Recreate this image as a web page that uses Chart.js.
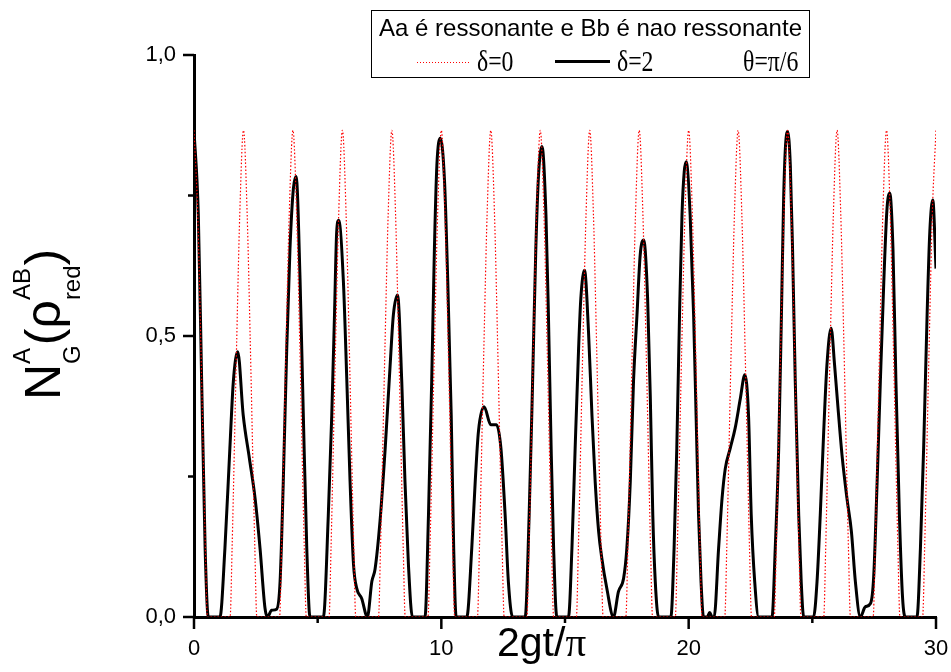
<!DOCTYPE html>
<html>
<head>
<meta charset="utf-8">
<script src="https://cdn.jsdelivr.net/npm/chart.js@4.4.0/dist/chart.umd.min.js"></script>
<style>
  body { margin: 0; background: #fff; }
  #wrap { position: relative; width: 951px; height: 672px; font-family: Arial, "Liberation Sans", sans-serif; }
  canvas { position: absolute; left: 0; top: 0; }
  .abs { position: absolute; white-space: nowrap; color: #000; }
  #legendBox { left: 371px; top: 10px; width: 437px; height: 66px; border: 1px solid #000; }
  #legTitle { left: 371px; width: 439px; top: 16px; font-size: 24px; line-height: 24px; text-align: center; }
  .greek { font-family: "Liberation Serif", "Times New Roman", serif; font-size: 29px; line-height: 29px; transform: scaleX(0.82); transform-origin: 0 0; }
  #redLine { left: 417px; top: 62px; width: 53px; height: 1px;
    background: repeating-linear-gradient(to right, #ff0000 0 1px, transparent 1px 3px); }
  #blackLine { left: 555px; top: 60px; width: 55px; height: 3px; background: #000; }
  #xTitle { left: 497px; top: 622px; font-size: 41px; line-height: 41px; }
  #xTitle .pi { font-family: "Liberation Serif", "Times New Roman", serif; }
  #yTitle { left: 18px; top: 400px; font-size: 50px; line-height: 50px; transform: rotate(-90deg); transform-origin: 0 0; }
  .st { display: inline-flex; flex-direction: column; position: relative; top: -30px; font-size: 24px; line-height: 24px; vertical-align: baseline; }
  .st .d { margin-top: 26px; }
</style>
</head>
<body>
<div id="wrap">
  <canvas id="myChart" width="951" height="672"></canvas>
  <div class="abs" id="legendBox"></div>
  <div class="abs" id="legTitle">Aa é ressonante e Bb é nao ressonante</div>
  <div class="abs" id="redLine"></div>
  <div class="abs greek" style="left:477px;top:47px">δ=0</div>
  <div class="abs" id="blackLine"></div>
  <div class="abs greek" style="left:617px;top:47px">δ=2</div>
  <div class="abs greek" style="left:743px;top:47px">θ=π/6</div>
  <div class="abs" id="xTitle">2gt/<span class="pi">π</span></div>
  <div class="abs" id="yTitle">N<span class="st"><span class="u">A</span><span class="d">G</span></span>(ρ<span class="st"><span class="u">AB</span><span class="d">red</span></span>)</div>
</div>
<script>
// delta = 0 (red dotted)
const redT = [
  0, 0.15, 0.28, 0.46, 0.54,
  1.46, 1.54, 1.72, 1.85, 2, 2.15, 2.28, 2.46, 2.54,
  3.46, 3.54, 3.72, 3.85, 4, 4.15, 4.28, 4.46, 4.54,
  5.46, 5.54, 5.72, 5.85, 6, 6.15, 6.28, 6.46, 6.54,
  7.46, 7.54, 7.72, 7.85, 8, 8.15, 8.28, 8.46, 8.54,
  9.46, 9.54, 9.72, 9.85, 10, 10.15, 10.28, 10.46, 10.54,
  11.46, 11.54, 11.72, 11.85, 12, 12.15, 12.28, 12.46, 12.54,
  13.46, 13.54, 13.72, 13.85, 14, 14.15, 14.28, 14.46, 14.54,
  15.46, 15.54, 15.72, 15.85, 16, 16.15, 16.28, 16.46, 16.54,
  17.46, 17.54, 17.72, 17.85, 18, 18.15, 18.28, 18.46, 18.54,
  19.46, 19.54, 19.72, 19.85, 20, 20.15, 20.28, 20.46, 20.54,
  21.46, 21.54, 21.72, 21.85, 22, 22.15, 22.28, 22.46, 22.54,
  23.46, 23.54, 23.72, 23.85, 24, 24.15, 24.28, 24.46, 24.54,
  25.46, 25.54, 25.72, 25.85, 26, 26.15, 26.28, 26.46, 26.54,
  27.46, 27.54, 27.72, 27.85, 28, 28.15, 28.28, 28.46, 28.54,
  29.46, 29.54, 29.72, 29.85, 30
];
const redY = [
  0.866, 0.716, 0.479, 0.122, 0,
  0, 0.122, 0.479, 0.716, 0.866, 0.716, 0.479, 0.122, 0,
  0, 0.122, 0.479, 0.716, 0.866, 0.716, 0.479, 0.122, 0,
  0, 0.122, 0.479, 0.716, 0.866, 0.716, 0.479, 0.122, 0,
  0, 0.122, 0.479, 0.716, 0.866, 0.716, 0.479, 0.122, 0,
  0, 0.122, 0.479, 0.716, 0.866, 0.716, 0.479, 0.122, 0,
  0, 0.122, 0.479, 0.716, 0.866, 0.716, 0.479, 0.122, 0,
  0, 0.122, 0.479, 0.716, 0.866, 0.716, 0.479, 0.122, 0,
  0, 0.122, 0.479, 0.716, 0.866, 0.716, 0.479, 0.122, 0,
  0, 0.122, 0.479, 0.716, 0.866, 0.716, 0.479, 0.122, 0,
  0, 0.122, 0.479, 0.716, 0.866, 0.716, 0.479, 0.122, 0,
  0, 0.122, 0.479, 0.716, 0.866, 0.716, 0.479, 0.122, 0,
  0, 0.122, 0.479, 0.716, 0.866, 0.716, 0.479, 0.122, 0,
  0, 0.122, 0.479, 0.716, 0.866, 0.716, 0.479, 0.122, 0,
  0, 0.122, 0.479, 0.716, 0.866, 0.716, 0.479, 0.122, 0,
  0, 0.122, 0.479, 0.716, 0.866
];

// delta = 2 (black solid)
const blackT = [
  0, 0.175, 0.31, 0.45, 0.58, 1.05, 1.25, 1.45, 1.59, 1.77,
  1.99, 2.24, 2.47, 2.67, 2.87, 2.97, 3.14, 3.34, 3.48, 3.61,
  3.75, 3.88, 4.02, 4.13, 4.29, 4.42, 4.56, 4.69, 5.23, 5.43,
  5.57, 5.68, 5.77, 5.85, 6.04, 6.18, 6.31, 6.45, 6.58, 6.78,
  7.01, 7.19, 7.32, 7.52, 7.73, 7.93, 8.06, 8.23, 8.4, 8.53,
  8.67, 8.83, 9.34, 9.48, 9.61, 9.72, 9.82, 9.96, 10.13, 10.26,
  10.4, 10.5, 10.6, 11.03, 11.23, 11.37, 11.5, 11.73, 12.0, 12.23,
  12.41, 12.58, 12.71, 12.88, 13.39, 13.55, 13.69, 13.82, 13.93, 14.07,
  14.23, 14.33, 14.44, 14.54, 14.67, 15.14, 15.28, 15.41, 15.55, 15.64,
  15.79, 15.95, 16.09, 16.22, 16.36, 16.49, 16.69, 16.96, 17.16, 17.37,
  17.5, 17.64, 17.77, 17.91, 18.04, 18.18, 18.34, 18.45, 18.55, 18.65,
  18.78, 19.28, 19.41, 19.52, 19.63, 19.73, 19.82, 19.9, 20.06, 20.2,
  20.3, 20.4, 20.5, 20.6, 20.75, 20.85, 20.95, 21.03, 21.21, 21.35,
  21.48, 21.68, 21.88, 22.09, 22.27, 22.42, 22.53, 22.67, 22.83, 23.37,
  23.5, 23.64, 23.75, 23.84, 23.91, 24.0, 24.11, 24.2, 24.31, 24.45,
  24.55, 24.65, 25.05, 25.19, 25.32, 25.46, 25.59, 25.76, 25.9, 26.04,
  26.2, 26.4, 26.58, 26.74, 26.94, 27.14, 27.35, 27.48, 27.62, 27.75,
  27.89, 28.02, 28.13, 28.26, 28.38, 28.52, 28.65, 28.76, 29.23, 29.37,
  29.5, 29.64, 29.75, 29.87, 30.0
];
const blackY = [
  0.866, 0.715, 0.419, 0.122, 0, 0, 0.122, 0.30, 0.419, 0.472,
  0.359, 0.282, 0.211, 0.122, 0.016, 0, 0.012, 0.014, 0.063, 0.241,
  0.478, 0.655, 0.763, 0.784, 0.597, 0.359, 0.122, 0, 0, 0.181,
  0.359, 0.537, 0.686, 0.706, 0.597, 0.419, 0.241, 0.093, 0.051, 0.033,
  0, 0.063, 0.085, 0.17, 0.30, 0.448, 0.537, 0.573, 0.419, 0.241,
  0.093, 0, 0, 0.181, 0.419, 0.655, 0.804, 0.852, 0.775, 0.597,
  0.359, 0.122, 0, 0, 0.122, 0.241, 0.33, 0.374, 0.342, 0.342,
  0.30, 0.181, 0.063, 0, 0, 0.181, 0.419, 0.655, 0.786, 0.837,
  0.715, 0.537, 0.30, 0.122, 0, 0, 0.122, 0.30, 0.478, 0.567,
  0.617, 0.508, 0.359, 0.241, 0.152, 0.104, 0.051, 0, 0.045, 0.069,
  0.122, 0.241, 0.419, 0.537, 0.644, 0.671, 0.567, 0.389, 0.181, 0.063,
  0, 0, 0.122, 0.30, 0.537, 0.715, 0.792, 0.81, 0.715, 0.537,
  0.359, 0.181, 0.063, 0, 0, 0.008, 0, 0, 0.122, 0.211,
  0.264, 0.30, 0.336, 0.389, 0.431, 0.359, 0.181, 0.063, 0, 0,
  0.122, 0.30, 0.537, 0.745, 0.834, 0.864, 0.804, 0.655, 0.419, 0.181,
  0.063, 0, 0, 0.063, 0.181, 0.33, 0.448, 0.514, 0.448, 0.371,
  0.288, 0.211, 0.152, 0.063, 0, 0.018, 0.024, 0.071, 0.241, 0.419,
  0.597, 0.727, 0.754, 0.655, 0.419, 0.181, 0.033, 0, 0, 0.122,
  0.30, 0.537, 0.686, 0.742, 0.62
];

const xTicks = [0, 5, 10, 15, 20, 25, 30];
const yTicks = [0, 0.25, 0.5, 0.75, 1.0];

const axisFont = { family: 'Arial, "Liberation Sans", sans-serif', size: 22 };

/* tick marks: long for labelled, short for minor */
const tickMarks = {
  id: "tickMarks",
  afterDraw(c) {
    const ctx = c.ctx;
    const xs = c.scales.x, ys = c.scales.y;
    const a = c.chartArea;
    ctx.save();
    ctx.strokeStyle = "#000";
    ctx.lineWidth = 2.5;
    xTicks.forEach(v => {
      const px = xs.getPixelForValue(v);
      const len = v % 10 === 0 ? 12 : 6;
      ctx.beginPath();
      ctx.moveTo(px, a.bottom);
      ctx.lineTo(px, a.bottom + len);
      ctx.stroke();
    });
    yTicks.forEach(v => {
      const py = ys.getPixelForValue(v);
      const len = (v * 4) % 2 === 0 ? 11 : 6;
      ctx.beginPath();
      ctx.moveTo(a.left - len, py);
      ctx.lineTo(a.left, py);
      ctx.stroke();
    });
    ctx.restore();
  }
};

const ctx = document.getElementById("myChart").getContext("2d");
new Chart(ctx, {
  type: "line",
  data: {
    datasets: [
      {
        label: "δ=0",
        data: redT.map((t, i) => ({ x: t, y: redY[i] })),
        borderColor: "#ff0000",
        borderWidth: 1.2,
        borderDash: [1.5, 2],
        cubicInterpolationMode: "monotone",
        pointRadius: 0,
        fill: false,
        order: 0
      },
      {
        label: "δ=2",
        data: blackT.map((t, i) => ({ x: t, y: blackY[i] })),
        borderColor: "#000",
        borderWidth: 3,
        cubicInterpolationMode: "monotone",
        pointRadius: 0,
        fill: false,
        order: 1
      }
    ]
  },
  options: {
    responsive: false,
    animation: false,
    devicePixelRatio: 1,
    layout: { padding: { top: 55, right: 15, left: 0, bottom: 0 } },
    plugins: { legend: { display: false }, tooltip: { enabled: false } },
    scales: {
      x: {
        type: "linear",
        min: 0, max: 30,
        z: 1,
        afterFit: s => { s.height = 55; s.paddingLeft = 0; s.paddingRight = 0; },
        grid: { drawOnChartArea: false, drawTicks: false },
        border: { display: true, color: "#000", width: 3 },
        ticks: {
          stepSize: 5, autoSkip: false, maxRotation: 0, padding: 19,
          color: "#000", font: axisFont,
          callback: v => (v % 10 === 0 ? String(v) : "")
        }
      },
      y: {
        min: 0, max: 1,
        z: 1,
        afterFit: s => { s.width = 194; s.paddingTop = 0; s.paddingBottom = 0; },
        grid: { drawOnChartArea: false, drawTicks: false },
        border: { display: true, color: "#000", width: 3 },
        ticks: {
          stepSize: 0.25, autoSkip: false, padding: 18,
          color: "#000", font: axisFont,
          callback: v => ((v * 4) % 2 === 0 ? v.toFixed(1).replace(".", ",") : "")
        }
      }
    }
  },
  plugins: [tickMarks]
});
</script>
</body>
</html>
